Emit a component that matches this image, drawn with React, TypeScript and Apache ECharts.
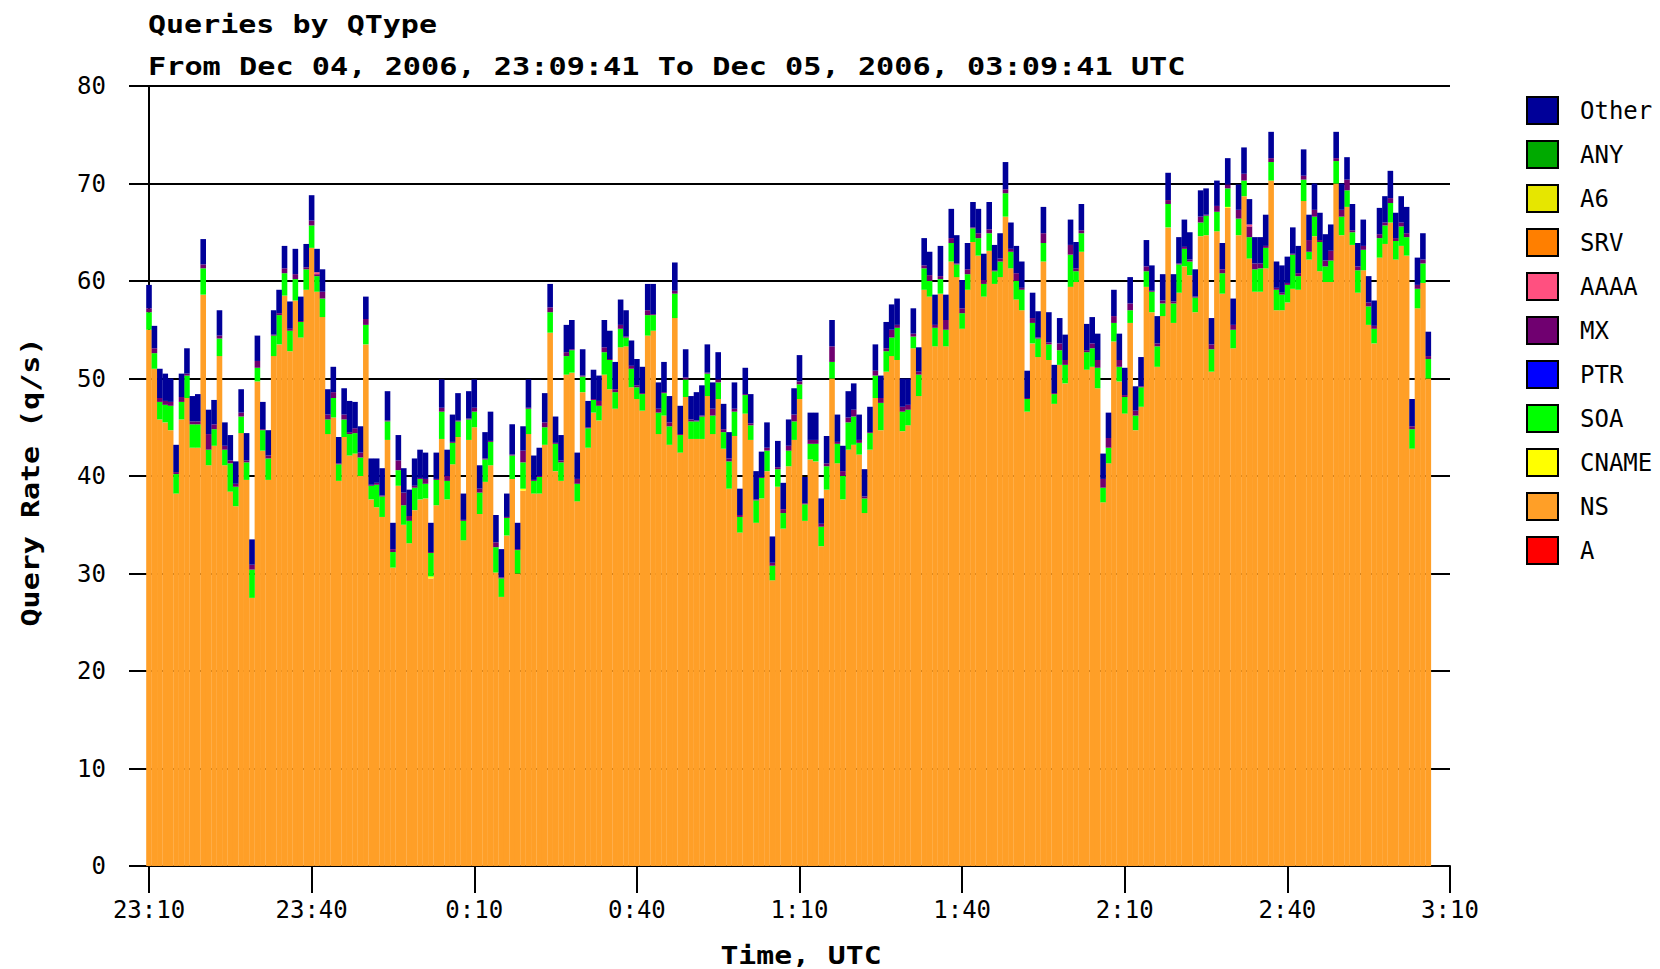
import React, { useEffect, useRef } from "react";
import * as echarts from "echarts";

const xTickLabels = ["23:10", "23:40", "0:10", "0:40", "1:10", "1:40", "2:10", "2:40", "3:10"];
const legendOrder = ["Other", "ANY", "A6", "SRV", "AAAA", "MX", "PTR", "SOA", "CNAME", "NS", "A"];
const stackOrder = ["A", "NS", "CNAME", "SOA", "PTR", "MX", "AAAA", "SRV", "A6", "ANY", "Other"];
const typeColors: Record<string, string> = {
  A: "#ff0000",
  NS: "#ff9f27",
  CNAME: "#ffff00",
  SOA: "#00ff00",
  PTR: "#0000ff",
  MX: "#700070",
  AAAA: "#ff5080",
  SRV: "#ff7f00",
  A6: "#e6e600",
  ANY: "#00aa00",
  Other: "#000099",
};

// one bar per minute, starting at 23:10 (minute offset = index)
const nsRate = [
  55.0, 51.0, 45.8, 45.5, 44.7, 38.2, 45.8, 48.0, 42.9, 42.9,
  58.6, 41.1, 43.1, 52.3, 41.1, 38.4, 36.9, 44.4, 39.6, 27.5,
  49.7, 42.6, 39.6, 52.3, 53.5, 58.5, 52.8, 58.0, 54.2, 59.1,
  63.4, 58.9, 56.3, 44.3, 46.0, 39.5, 44.0, 42.1, 42.3, 40.0,
  53.5, 37.6, 36.8, 35.8, 43.7, 30.6, 39.0, 35.0, 33.1, 36.5,
  37.6, 37.7, 29.5, 37.0, 43.8, 37.6, 41.2, 44.0, 33.4, 43.7,
  45.0, 36.1, 39.4, 41.1, 30.1, 27.6, 33.9, 39.7, 30.0, 38.5,
  44.3, 38.2, 38.2, 43.2, 54.7, 40.5, 39.5, 50.4, 50.6, 37.4,
  48.6, 42.9, 46.5, 45.7, 50.4, 48.9, 46.9, 53.2, 53.3, 49.1,
  47.9, 46.7, 54.4, 54.9, 44.3, 46.2, 43.2, 56.2, 42.4, 48.1,
  43.8, 43.8, 43.8, 48.2, 44.3, 47.9, 42.8, 38.7, 44.1, 34.2,
  46.4, 43.7, 35.2, 37.7, 40.5, 29.3, 38.9, 34.6, 41.0, 43.7,
  47.9, 35.4, 41.7, 41.5, 32.8, 38.6, 50.0, 41.3, 37.6, 42.7,
  43.2, 42.2, 36.2, 42.7, 48.0, 44.7, 50.7, 52.3, 51.9, 44.6,
  45.2, 53.1, 48.2, 59.1, 58.4, 53.3, 58.7, 53.3, 62.0, 60.4,
  55.1, 59.1, 64.0, 62.6, 58.4, 63.1, 59.7, 60.4, 66.6, 61.3,
  58.1, 57.0, 46.6, 53.6, 52.2, 62.0, 51.9, 47.4, 51.4, 49.5,
  59.4, 59.9, 63.0, 50.9, 51.2, 49.0, 37.3, 41.3, 53.8, 49.7,
  46.4, 55.7, 44.7, 47.1, 59.4, 56.8, 51.2, 56.4, 65.5, 55.7,
  58.8, 61.5, 60.6, 56.8, 64.6, 64.7, 50.7, 65.1, 58.7, 67.5,
  53.1, 64.7, 68.7, 62.3, 58.9, 58.9, 61.3, 70.3, 57.0, 57.0,
  57.8, 59.2, 59.1, 68.2, 62.2, 64.6, 61.0, 59.9, 59.9, 70.0,
  64.7, 67.6, 63.7, 58.8, 61.1, 55.5, 53.6, 62.4, 63.8, 66.0,
  62.2, 63.6, 62.6, 42.8, 57.2, 59.8, 50.0,
];

const soaRate = [
  1.8, 1.6, 1.8, 1.8, 2.5, 2.0, 1.8, 2.3, 2.4, 2.4,
  2.7, 1.6, 1.7, 1.8, 1.6, 2.9, 2.0, 1.7, 1.8, 2.9,
  1.4, 2.1, 2.2, 2.1, 3.0, 2.3, 2.1, 2.2, 1.6, 2.1,
  2.3, 1.6, 1.9, 1.5, 2.0, 1.7, 1.8, 2.2, 2.1, 1.9,
  2.0, 1.4, 2.3, 2.1, 1.9, 1.6, 1.6, 2.0, 2.3, 2.3,
  2.1, 1.5, 2.4, 2.6, 2.8, 1.9, 2.2, 1.6, 2.0, 2.1,
  1.6, 2.2, 2.3, 2.4, 2.6, 1.9, 1.8, 2.4, 2.4, 2.7,
  2.6, 1.3, 1.7, 1.8, 2.1, 2.8, 1.9, 1.9, 2.3, 1.8,
  1.6, 2.0, 1.3, 1.5, 2.3, 3.0, 1.7, 1.9, 0.9, 1.9,
  1.2, 1.7, 2.1, 1.6, 2.2, 2.3, 1.9, 2.5, 1.8, 1.8,
  1.8, 1.8, 2.3, 2.3, 1.9, 1.7, 1.7, 2.8, 2.5, 1.6,
  1.9, 1.5, 2.3, 2.1, 2.1, 1.5, 1.8, 1.6, 1.6, 1.9,
  1.5, 1.7, 1.6, 1.8, 2.0, 2.4, 1.7, 2.0, 2.4, 2.8,
  2.9, 1.2, 1.5, 1.7, 2.3, 2.8, 2.1, 1.9, 3.3, 2.0,
  1.6, 1.2, 2.2, 2.2, 1.6, 1.9, 1.5, 1.7, 1.9, 1.3,
  1.6, 1.6, 1.4, 1.8, 1.3, 1.8, 1.3, 1.6, 2.4, 1.7,
  1.9, 2.1, 1.3, 2.1, 1.9, 1.9, 1.6, 1.0, 1.5, 1.9,
  3.3, 1.1, 1.9, 1.8, 1.9, 2.1, 1.5, 1.6, 1.9, 1.5,
  1.7, 1.3, 1.5, 2.0, 1.6, 2.1, 2.1, 1.3, 2.4, 2.0,
  2.9, 1.8, 1.4, 1.5, 1.4, 2.0, 2.3, 2.0, 2.1, 1.9,
  1.9, 1.7, 1.6, 2.2, 2.3, 2.4, 2.1, 1.9, 2.1, 1.6,
  1.8, 3.5, 1.4, 2.2, 0.8, 2.0, 3.0, 1.6, 2.2, 2.3,
  1.9, 1.7, 1.3, 2.3, 2.1, 1.9, 1.5, 2.0, 1.9, 2.0,
  1.9, 2.0, 1.9, 2.0, 2.0, 2.0, 2.0,
];

const mxRate = [
  0.4, 0.5, 0.4, 0.4, 0.4, 0.2, 0.5, 0.2, 0.3, 0.3,
  0.4, 1.6, 0.5, 0.3, 0.4, 0.3, 0.3, 0.4, 0.2, 0.5,
  0.7, 0.1, 0.3, 0.1, 0.2, 0.5, 0.2, 0.5, 0.1, 0.2,
  0.5, 0.2, 0.7, 0.5, 0.6, 0.1, 0.5, 0.2, 0.5, 0.5,
  0.6, 0.1, 0.2, 0.1, 0.1, 0.3, 1.0, 1.3, 0.5, 0.2,
  0.1, 0.5, 0.1, 0.1, 0.4, 0.5, 0.1, 0.1, 0.1, 0.1,
  0.4, 0.4, 0.1, 0.1, 0.5, 0.1, 0.1, 0.1, 0.1, 1.2,
  0.1, 0.1, 0.1, 0.5, 0.5, 0.1, 0.2, 0.4, 0.1, 0.5,
  0.1, 0.1, 0.1, 0.5, 0.5, 0.1, 0.3, 0.4, 0.1, 0.3,
  0.2, 0.1, 0.5, 0.1, 0.4, 0.1, 0.4, 0.3, 0.1, 0.2,
  0.2, 0.1, 0.1, 0.1, 0.7, 0.3, 0.3, 0.3, 0.3, 0.2,
  0.1, 0.2, 0.1, 0.1, 0.3, 0.3, 0.2, 0.4, 0.5, 0.7,
  0.3, 0.1, 0.4, 0.4, 0.3, 0.3, 1.6, 0.2, 0.5, 0.5,
  0.7, 0.3, 0.2, 0.1, 0.5, 0.5, 0.3, 0.8, 0.3, 0.5,
  0.5, 0.3, 0.3, 0.3, 0.6, 0.3, 0.3, 1.0, 0.5, 0.1,
  0.5, 0.5, 0.1, 0.5, 0.4, 0.4, 0.1, 0.3, 0.4, 0.3,
  0.8, 0.2, 0.1, 0.5, 0.1, 1.0, 0.2, 0.1, 0.7, 0.5,
  1.0, 0.3, 0.3, 0.2, 0.5, 0.8, 0.9, 1.0, 0.7, 0.7,
  0.2, 0.7, 0.5, 0.1, 0.5, 0.1, 0.3, 0.3, 0.4, 0.2,
  0.1, 0.2, 0.2, 0.1, 0.6, 0.1, 0.5, 0.6, 0.4, 0.4,
  0.5, 0.9, 0.7, 1.1, 0.6, 0.5, 0.2, 0.4, 0.2, 0.2,
  0.2, 0.1, 0.3, 0.4, 1.2, 0.7, 0.2, 0.6, 1.0, 0.3,
  0.7, 1.1, 0.2, 0.4, 0.4, 0.4, 0.3, 0.4, 0.3, 0.5,
  0.3, 0.4, 0.4, 0.3, 0.4, 0.4, 0.3,
];

const otherRate = [
  2.4, 2.3, 3.0, 2.8, 2.4, 2.8, 2.4, 2.6, 2.6, 2.8,
  2.6, 2.5, 2.5, 2.6, 2.4, 2.6, 2.3, 2.4, 2.8, 2.6,
  2.6, 2.8, 2.6, 2.5, 2.4, 2.3, 2.8, 2.6, 2.5, 2.4,
  2.6, 2.4, 2.3, 2.6, 2.6, 2.7, 2.7, 3.2, 2.7, 2.7,
  2.3, 2.7, 2.5, 2.8, 3.0, 2.7, 2.6, 2.5, 2.7, 2.8,
  2.9, 2.7, 3.0, 2.7, 2.9, 2.7, 2.8, 2.8, 2.7, 2.8,
  2.9, 2.4, 2.7, 3.0, 2.8, 2.9, 2.4, 3.1, 2.7, 2.5,
  2.9, 2.5, 2.9, 3.0, 2.4, 2.7, 2.6, 2.8, 3.0, 2.7,
  2.7, 2.7, 3.0, 2.6, 2.8, 2.9, 2.8, 2.6, 2.7, 2.6,
  2.7, 2.7, 2.7, 3.1, 2.7, 3.1, 2.7, 2.9, 2.9, 2.9,
  2.4, 2.9, 3.1, 2.9, 2.7, 2.8, 2.6, 2.7, 2.7, 2.7,
  2.7, 3.0, 2.9, 2.6, 2.6, 2.7, 2.7, 2.7, 2.7, 2.7,
  2.7, 2.7, 2.8, 2.8, 2.6, 2.8, 2.7, 2.8, 2.6, 2.7,
  2.7, 2.6, 2.8, 2.6, 2.7, 2.3, 2.7, 2.6, 2.7, 2.9,
  2.7, 2.6, 2.5, 2.8, 2.4, 3.1, 3.1, 2.6, 3.0, 2.9,
  2.9, 2.7, 2.6, 2.5, 2.7, 2.8, 2.6, 2.6, 2.8, 2.7,
  2.8, 2.7, 2.8, 2.6, 2.7, 2.7, 3.1, 2.9, 2.6, 2.6,
  2.6, 2.7, 2.7, 2.7, 2.7, 2.7, 2.6, 2.6, 2.7, 2.7,
  2.8, 2.7, 2.5, 3.0, 2.7, 2.6, 2.8, 2.7, 2.8, 2.8,
  2.7, 2.8, 2.8, 2.8, 2.7, 2.7, 2.7, 2.6, 2.7, 2.7,
  2.7, 2.6, 2.7, 2.6, 2.7, 2.7, 3.2, 2.7, 2.7, 2.8,
  2.7, 2.7, 2.8, 2.7, 2.6, 2.7, 2.8, 2.7, 2.7, 2.7,
  2.7, 2.3, 2.7, 2.4, 2.7, 2.7, 2.6, 2.7, 2.7, 2.8,
  2.6, 2.7, 2.7, 2.8, 2.8, 2.7, 2.5,
];

// sparse small slivers: [minute index, rate]
const cnameSlivers: [number, number][] = [[52, 0.2], [69, 0.2], [199, 0.1]];
const aaaaSlivers: [number, number][] = [[31, 0.2], [203, 0.2]];

// 241 minute slots from 23:10 to 3:10 (category axis, ticks on slots)
const minuteSlots = Array.from({ length: 241 }, (_, i) => String(i));

const MONO = '"DejaVu Sans Mono", monospace';

function sparseToArray(slivers: [number, number][]) {
  const map = new Map(slivers);
  return nsRate.map((_, i) => map.get(i) ?? 0);
}

const seriesData: Record<string, number[]> = {
  A: [],
  NS: nsRate,
  CNAME: sparseToArray(cnameSlivers),
  SOA: soaRate,
  PTR: [],
  MX: mxRate,
  AAAA: sparseToArray(aaaaSlivers),
  SRV: [],
  A6: [],
  ANY: [],
  Other: otherRate,
};

export default function App() {
  const ref = useRef<HTMLDivElement>(null);
  useEffect(() => {
    if (!ref.current) return;
    const chart = echarts.init(ref.current, undefined, { renderer: "svg" });
    const option: any = {
      animation: false,
      backgroundColor: "#ffffff",
      textStyle: { fontFamily: MONO, color: "#000" },
      grid: { left: 149, right: 210, top: 86, bottom: 103, containLabel: false },
      legend: {
        orient: "vertical",
        left: 1526,
        top: 96,
        padding: 0,
        icon: "rect",
        itemWidth: 31,
        itemHeight: 27,
        itemGap: 15,
        selectedMode: false,
        data: legendOrder,
        itemStyle: { borderColor: "#000", borderWidth: 2 },
        textStyle: { fontFamily: MONO, fontSize: 24, color: "#000", padding: [0, 0, 0, 17] },
      },
      xAxis: {
        type: "category",
        data: minuteSlots,
        boundaryGap: false,
        axisLine: { show: true, lineStyle: { color: "#000", width: 2 } },
        axisTick: { show: true, interval: 29, length: 27, lineStyle: { color: "#000", width: 2 } },
        splitLine: { show: false },
        axisLabel: {
          interval: 29,
          fontFamily: MONO,
          fontSize: 24,
          color: "#000",
          margin: 32,
          formatter: (_v: string, idx: number) => xTickLabels[Math.round(idx / 30)] ?? "",
        },
      },
      yAxis: {
        type: "value",
        min: 0,
        max: 80,
        interval: 10,
        axisLine: { show: true, lineStyle: { color: "#000", width: 2 } },
        axisTick: { show: true, length: 20, lineStyle: { color: "#000", width: 2 } },
        splitLine: { show: true, lineStyle: { color: "#000", width: 2 } },
        axisLabel: { fontFamily: MONO, fontSize: 24, color: "#000", margin: 43 },
      },
      graphic: [
        {
          type: "text",
          x: 148,
          y: 24,
          scaleX: 1.2,
          silent: true,
          style: {
            text: "Queries by QType",
            font: `bold 25px ${MONO}`,
            fill: "#000",
            verticalAlign: "middle",
          },
        },
        {
          type: "text",
          x: 148,
          y: 66,
          scaleX: 1.21,
          silent: true,
          style: {
            text: "From Dec 04, 2006, 23:09:41 To Dec 05, 2006, 03:09:41 UTC",
            font: `bold 25px ${MONO}`,
            fill: "#000",
            verticalAlign: "middle",
          },
        },
        {
          type: "text",
          x: 30,
          y: 482,
          rotation: Math.PI / 2,
          scaleX: 1.2,
          silent: true,
          style: {
            text: "Query Rate (q/s)",
            font: `bold 25px ${MONO}`,
            fill: "#000",
            align: "center",
            verticalAlign: "middle",
          },
        },
        {
          type: "text",
          x: 801,
          y: 955,
          scaleX: 1.19,
          silent: true,
          style: {
            text: "Time, UTC",
            font: `bold 25px ${MONO}`,
            fill: "#000",
            align: "center",
            verticalAlign: "middle",
          },
        },
      ],
      series: stackOrder.map((name) => ({
        name,
        type: "bar",
        stack: "qtype",
        barWidth: 5.6,
        clip: false,
        color: typeColors[name],
        itemStyle: { color: typeColors[name] },
        emphasis: { disabled: true },
        data: seriesData[name],
      })),
    };
    chart.setOption(option);
    return () => chart.dispose();
  }, []);
  return (
    <div
      ref={ref}
      style={{ position: "fixed", left: 0, top: 0, width: 1660, height: 969, background: "#fff" }}
    />
  );
}
